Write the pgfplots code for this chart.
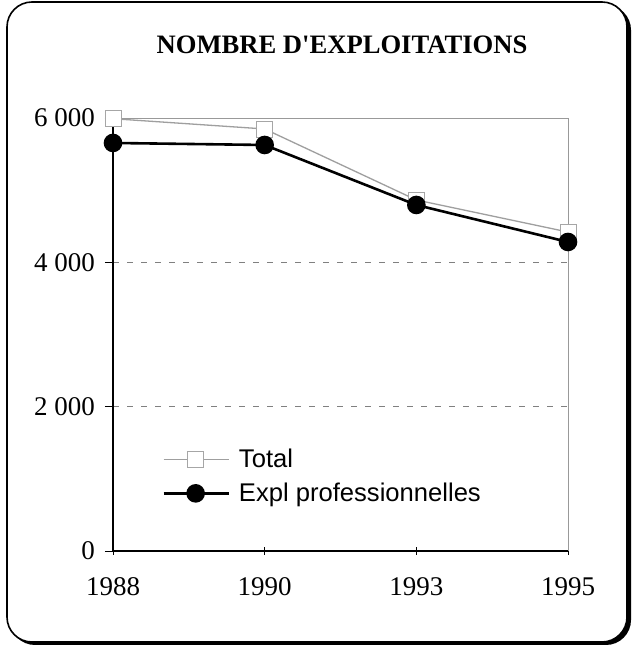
\documentclass[border=0pt]{standalone}
\usepackage{pgfplots}
\pgfplotsset{compat=1.18}
\usepackage{fontspec}
\setmainfont{Liberation Serif}
\newfontfamily\titlefont{Liberation Serif}
\newfontfamily\arial{Liberation Sans}
\begin{document}
\begin{tikzpicture}[x=1pt,y=1pt]
\useasboundingbox (0,0) rectangle (634,650);
% frame with shadow
\fill[black, rounded corners=25pt] (10,5) rectangle (631,645);
\draw[black, fill=white, line width=1.6pt, rounded corners=25pt] (7,8) rectangle (627,648);
\node[anchor=base, font=\titlefont\bfseries\fontsize{26.6}{30}\selectfont, inner sep=0pt] at (342,596) {NOMBRE D'EXPLOITATIONS};
\begin{axis}[
  at={(113pt,99pt)}, anchor=south west,
  scale only axis, width=455pt, height=433pt,
  xmin=0, xmax=3, ymin=0, ymax=6000,
  axis x line*=bottom, axis y line*=left,
  axis line style={black, line width=1.1pt},
  xtick={0,1,2,3}, xticklabels={1988,1990,1993,1995},
  ytick={0,2000,4000,6000}, yticklabels={0,2 000,4 000,6 000},
  xtick align=center, ytick align=outside,
  major tick length=8pt,
  tick style={black, line width=0.8pt},
  ymajorgrids,
  grid style={gray, dash pattern=on 6pt off 8pt, line width=0.8pt},
  ticklabel style={font=\fontsize{27}{30}\selectfont, inner sep=0pt},
  xticklabel style={yshift=-22pt},
  yticklabel style={xshift=-10pt},
  legend style={at={(0.108,0.24)}, anchor=north west, draw=none, fill=none,
    font=\arial\fontsize{25.6}{30}\selectfont, row sep=10pt, inner sep=0pt},
  legend cell align=left,
  legend image code/.code={\draw[mark repeat=2,mark phase=2] plot coordinates {(0pt,0pt) (32pt,0pt) (65pt,0pt)}; \path (72pt,0pt);},
  clip=false,
]
\draw[gray!80, line width=0.8pt] (rel axis cs:0,1) -- (rel axis cs:1,1) -- (rel axis cs:1,0);
\addplot[gray!75, line width=1.3pt, mark=square*, mark size=8pt,
  mark options={fill=white, draw=gray!70, densely dotted, line width=0.9pt, solid}]
  coordinates {(0,5990) (1,5848) (2,4864) (3,4420)};
\addlegendentry{Total}
\addplot[black, line width=2.6pt, mark=*, mark size=8pt, mark options={fill=black, solid}]
  coordinates {(0,5654) (1,5626) (2,4795) (3,4282)};
\addlegendentry{Expl professionnelles}
\end{axis}
\end{tikzpicture}
\end{document}
